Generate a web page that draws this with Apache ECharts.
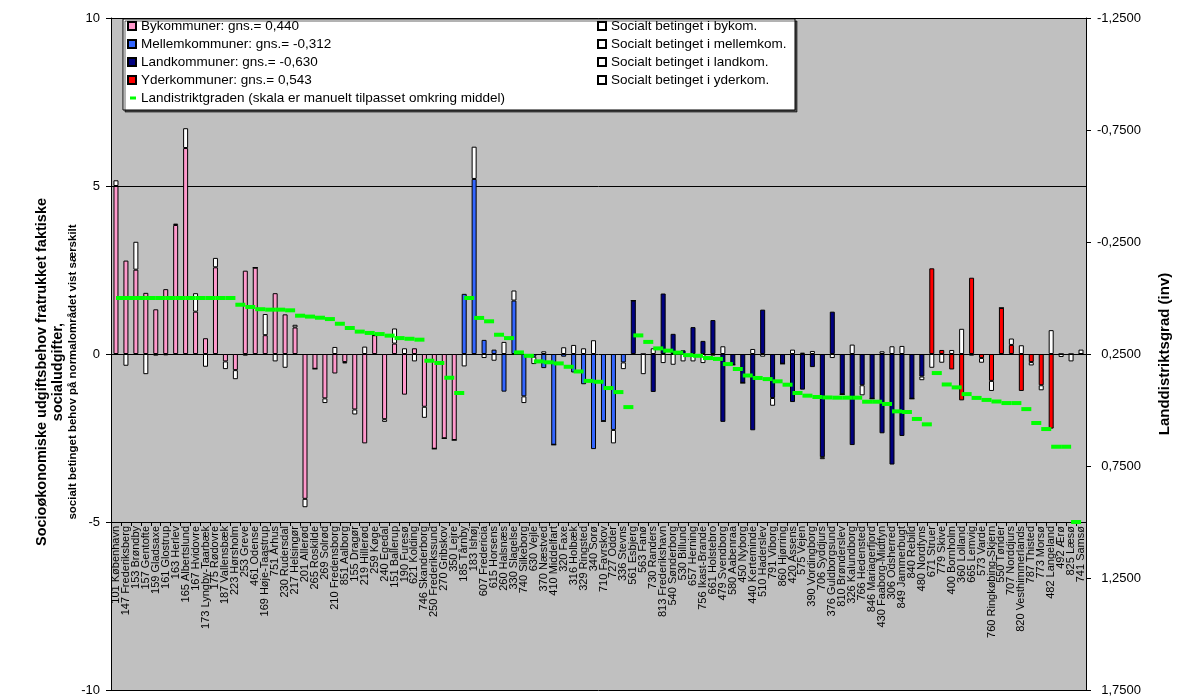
<!DOCTYPE html>
<html>
<head>
<meta charset="utf-8">
<script src="https://cdn.jsdelivr.net/npm/echarts@6/dist/echarts.min.js"></script>
<style>
html,body{margin:0;padding:0;background:#fff;}
#chart{width:1180px;height:700px;}
</style>
</head>
<body>
<div id="chart"></div>
<script>
// ---- Bykommuner ----
const byKommuner = ["101 København","147 Frederiksberg","153 Brøndby","157 Gentofte","159 Gladsaxe","161 Glostrup","163 Herlev","165 Albertslund","167 Hvidovre","173 Lyngby-Taarbæk","175 Rødovre","187 Vallensbæk","223 Hørsholm","253 Greve","461 Odense","169 Høje-Taastrup","751 Århus","230 Rudersdal","217 Helsingør","201 Allerød","265 Roskilde","269 Solrød","210 Fredensborg","851 Aalborg","155 Dragør","219 Hillerød","259 Køge","240 Egedal","151 Ballerup","190 Furesø","621 Kolding","746 Skanderborg","250 Frederikssund","270 Gribskov","350 Lejre"];
const byBehov = [5.0,2.78,2.51,1.82,1.33,1.93,3.84,6.13,1.26,0.47,2.58,-0.22,-0.48,2.48,2.57,0.56,1.81,1.18,0.79,-4.31,-0.44,-1.32,-0.58,-0.24,-1.65,-2.66,0.56,-1.94,0.31,-1.21,0.17,-1.57,-2.82,-2.51,-2.56];
const bySocialt = [0.17,-0.35,0.83,-0.6,-0.05,-0.04,0.04,0.59,0.55,-0.38,0.28,-0.23,-0.27,-0.05,0,0.63,-0.22,-0.41,0.08,-0.25,0,-0.14,0.21,-0.04,-0.15,0.22,0,-0.08,0.45,0.17,-0.22,-0.33,0,0,0];
const byLandgrad = [0,0,0,0,0,0,0,0,0,0,0,0,0.03,0.04,0.05,0.052,0.052,0.055,0.079,0.083,0.088,0.094,0.115,0.134,0.150,0.156,0.161,0.168,0.179,0.182,0.186,0.280,0.290,0.356,0.424];

// ---- Mellemkommuner ----
const mellemKommuner = ["185 Tårnby","183 Ishøj","607 Fredericia","615 Horsens","260 Halsnæs","330 Slagelse","740 Silkeborg","630 Vejle","370 Næstved","410 Middelfart","320 Faxe","316 Holbæk","329 Ringsted","340 Sorø","710 Favrskov","727 Odder","336 Stevns"];
const mellemBehov = [1.79,5.21,0.42,0.13,-1.12,1.59,-1.26,-0.08,-0.42,-2.7,-0.08,-0.55,-0.9,-2.83,-2.0,-2.26,-0.25];
const mellemSocialt = [-0.37,0.96,-0.12,-0.2,0.36,0.3,-0.2,-0.22,0.08,0,0.2,0.27,0.17,0.41,0,-0.4,-0.2];
const mellemLandgrad = [0,0.089,0.104,0.164,0.179,0.243,0.258,0.283,0.287,0.292,0.307,0.328,0.370,0.374,0.402,0.420,0.487];

// ---- Landkommuner ----
const landKommuner = ["561 Esbjerg","563 Fanø","730 Randers","813 Frederikshavn","540 Sønderborg","530 Billund","657 Herning","756 Ikast-Brande","661 Holstebro","479 Svendborg","580 Aabenraa","450 Nyborg","440 Kerteminde","510 Haderslev","791 Viborg","860 Hjørring","420 Assens","575 Vejen","390 Vordingborg","706 Syddjurs","376 Guldborgsund","810 Brønderslev","326 Kalundborg","766 Hedensted","846 Mariagerfjord","430 Faaborg-Midtfyn","306 Odsherred","849 Jammerbugt","840 Rebild","480 Nordfyns"];
const landBehov = [1.59,0,-1.13,1.8,0.6,0.11,0.8,0.39,1.01,-2.02,-0.32,-0.86,-2.27,1.32,-1.31,-0.29,-1.43,-1.06,-0.39,-3.07,1.26,-1.2,-2.71,-0.93,-1.33,-2.36,-3.29,-2.44,-1.33,-0.67];
const landSocialt = [0,-0.6,0.17,-0.27,-0.32,-0.22,-0.22,-0.27,-0.05,0.23,0,0,0.15,-0.08,-0.23,0,0.13,0.04,0.09,-0.06,-0.12,0,0.28,-0.3,0,0.08,0.23,0.24,0,-0.11];
const landLandgrad = [0.167,0.196,0.225,0.235,0.244,0.255,0.258,0.268,0.272,0.295,0.317,0.346,0.357,0.362,0.372,0.387,0.424,0.436,0.442,0.444,0.445,0.445,0.445,0.463,0.463,0.473,0.506,0.509,0.540,0.564];

// ---- Yderkommuner ----
const yderKommuner = ["671 Struer","779 Skive","400 Bornholm","360 Lolland","665 Lemvig","573 Varde","760 Ringkøbing-Skjern","550 Tønder","707 Norddjurs","820 Vesthimmerlands","787 Thisted","773 Morsø","482 Langeland","492 Ærø","825 Læsø","741 Samsø"];
const yderBehov = [2.55,0.12,-0.46,-1.38,2.27,-0.12,-0.8,1.37,0.27,-1.1,-0.24,-0.93,-2.22,0,0,0];
const yderSocialt = [-0.41,-0.26,0.12,0.75,-0.05,-0.14,-0.3,0,0.19,0.26,-0.1,-0.15,0.71,-0.09,-0.22,0.13];
const yderLandgrad = [0.335,0.386,0.399,0.429,0.446,0.455,0.462,0.469,0.469,0.496,0.558,0.585,0.664,0.664,1.0,null];

// ---- Axis ticks ----
const leftTicks = {min: -10, max: 10, interval: 5};
const rightTicks = {min: -1.25, max: 1.75, interval: 0.5};

const seriesNames = ["Bykommuner: gns.= 0,440","Mellemkommuner: gns.= -0,312","Landkommuner: gns.= -0,630","Yderkommuner: gns.= 0,543"];
const socialNames = ["Socialt betinget i bykom.","Socialt betinget i mellemkom.","Socialt betinget i landkom.","Socialt betinget i yderkom."];
const lineName = "Landistriktgraden (skala er manuelt tilpasset omkring middel)";
const groupColors = ["#ff99cc","#3366ff","#000080","#ff0000"];

// ---- build ----
const groups = [
  {names: byKommuner, behov: byBehov, social: bySocialt, grad: byLandgrad},
  {names: mellemKommuner, behov: mellemBehov, social: mellemSocialt, grad: mellemLandgrad},
  {names: landKommuner, behov: landBehov, social: landSocialt, grad: landLandgrad},
  {names: yderKommuner, behov: yderBehov, social: yderSocialt, grad: yderLandgrad}
];
const categories = [].concat(...groups.map(g => g.names));
const N = categories.length;
const landgrad = [].concat(...groups.map(g => g.grad));
const mainData = [], socData = [];
let off = 0;
groups.forEach((g, gi) => {
  const m = new Array(N).fill(null), s = new Array(N).fill(null);
  g.names.forEach((_, i) => { m[off + i] = g.behov[i]; s[off + i] = g.social[i]; });
  mainData.push(m); socData.push(s);
  off += g.names.length;
});

const FONT = '"Liberation Sans", Arial, sans-serif';
const series = [];
groups.forEach((g, gi) => {
  series.push({
    name: seriesNames[gi], type: 'bar', stack: 'tot', barWidth: 5,
    data: mainData[gi],
    itemStyle: {color: groupColors[gi], borderColor: '#000', borderWidth: 1},
    z: 3
  });
});
groups.forEach((g, gi) => {
  series.push({
    name: socialNames[gi], type: 'bar', stack: 'tot', barWidth: 5,
    data: socData[gi],
    itemStyle: {color: '#ffffff', borderColor: '#000', borderWidth: 1},
    z: 3
  });
});
series.push({
  name: lineName, type: 'line', yAxisIndex: 1,
  data: landgrad,
  showSymbol: true, showAllSymbol: true,
  symbol: 'rect', symbolSize: [10, 4], symbolOffset: ['50%', 0],
  lineStyle: {width: 0, opacity: 0},
  itemStyle: {color: '#00ff00'},
  z: 6
});

const legendText = {color: '#000', fontSize: 13.5, fontFamily: FONT, lineHeight: 18};
const chart = echarts.init(document.getElementById('chart'), null, {renderer: 'canvas'});
chart.setOption({
  animation: false,
  backgroundColor: '#ffffff',
  textStyle: {fontFamily: FONT},
  grid: {left: 111, right: 94, top: 18, bottom: 10, show: true, backgroundColor: '#c0c0c0', borderWidth: 0},
  legend: [
    {data: seriesNames.map(n => ({name: n, icon: 'rect'})), orient: 'vertical', left: 127, top: 17, padding: 0,
     itemWidth: 8, itemHeight: 8, itemGap: 0, textStyle: legendText, z: 10, selectedMode: false},
    {data: socialNames.map(n => ({name: n, icon: 'rect'})), orient: 'vertical', left: 597, top: 17, padding: 0,
     itemWidth: 8, itemHeight: 8, itemGap: 0, textStyle: legendText, z: 10, selectedMode: false},
    {data: [{name: lineName, icon: 'rect'}], orient: 'vertical', left: 130, top: 89, padding: 0,
     itemWidth: 6, itemHeight: 3, itemGap: 0, textStyle: legendText, z: 10, selectedMode: false}
  ],
  xAxis: {
    type: 'category', data: categories, position: 'bottom', offset: -168,
    axisLine: {show: true, onZero: false, lineStyle: {color: '#000', width: 1}},
    axisTick: {show: true, length: 4, lineStyle: {color: '#000'}},
    axisLabel: {rotate: 90, interval: 0, fontSize: 11, color: '#000', margin: 4, fontFamily: FONT},
    splitLine: {show: false}
  },
  yAxis: [
    {type: 'value', min: leftTicks.min, max: leftTicks.max, interval: leftTicks.interval, position: 'left',
     axisLine: {show: true, lineStyle: {color: '#000'}},
     axisTick: {show: true, length: 5, lineStyle: {color: '#000'}},
     axisLabel: {fontSize: 13, color: '#000', margin: 11, fontFamily: FONT},
     splitLine: {show: true, lineStyle: {color: '#000', width: 1}}},
    {type: 'value', min: rightTicks.min, max: rightTicks.max, interval: rightTicks.interval, position: 'right', inverse: true,
     axisLine: {show: true, lineStyle: {color: '#000'}},
     axisTick: {show: true, length: 5, lineStyle: {color: '#000'}},
     axisLabel: {fontSize: 13, color: '#000', margin: 55, align: 'right', fontFamily: FONT,
       formatter: v => v.toFixed(4).replace('.', ',')},
     splitLine: {show: false}}
  ],
  graphic: [
    {type: 'rect', shape: {x: 123, y: 19, width: 672, height: 91}, z: 5,
     style: {fill: '#fff', stroke: '#000', lineWidth: 1, shadowColor: 'rgba(0,0,0,0.6)', shadowOffsetX: 2, shadowOffsetY: 2, shadowBlur: 0}},
    {type: 'text', x: 42, y: 372, rotation: Math.PI / 2, z: 5,
     style: {text: 'Socioøkonomiske udgiftsbehov fratrukket faktiske', fontSize: 14.5, fontWeight: 'bold', fontFamily: FONT, fill: '#000', align: 'center', verticalAlign: 'middle'}},
    {type: 'text', x: 58, y: 372, rotation: Math.PI / 2, z: 5,
     style: {text: 'socialudgifter,', fontSize: 14.5, fontWeight: 'bold', fontFamily: FONT, fill: '#000', align: 'center', verticalAlign: 'middle'}},
    {type: 'text', x: 73, y: 372, rotation: Math.PI / 2, z: 5,
     style: {text: 'socialt betinget behov på normalområdet vist særskilt', fontSize: 11.5, fontWeight: 'bold', fontFamily: FONT, fill: '#000', align: 'center', verticalAlign: 'middle'}},
    {type: 'text', x: 1165, y: 354, rotation: Math.PI / 2, z: 5,
     style: {text: 'Landdistriktsgrad (inv)', fontSize: 15, fontWeight: 'bold', fontFamily: FONT, fill: '#000', align: 'center', verticalAlign: 'middle'}}
  ],
  series: series
});
</script>
</body>
</html>
